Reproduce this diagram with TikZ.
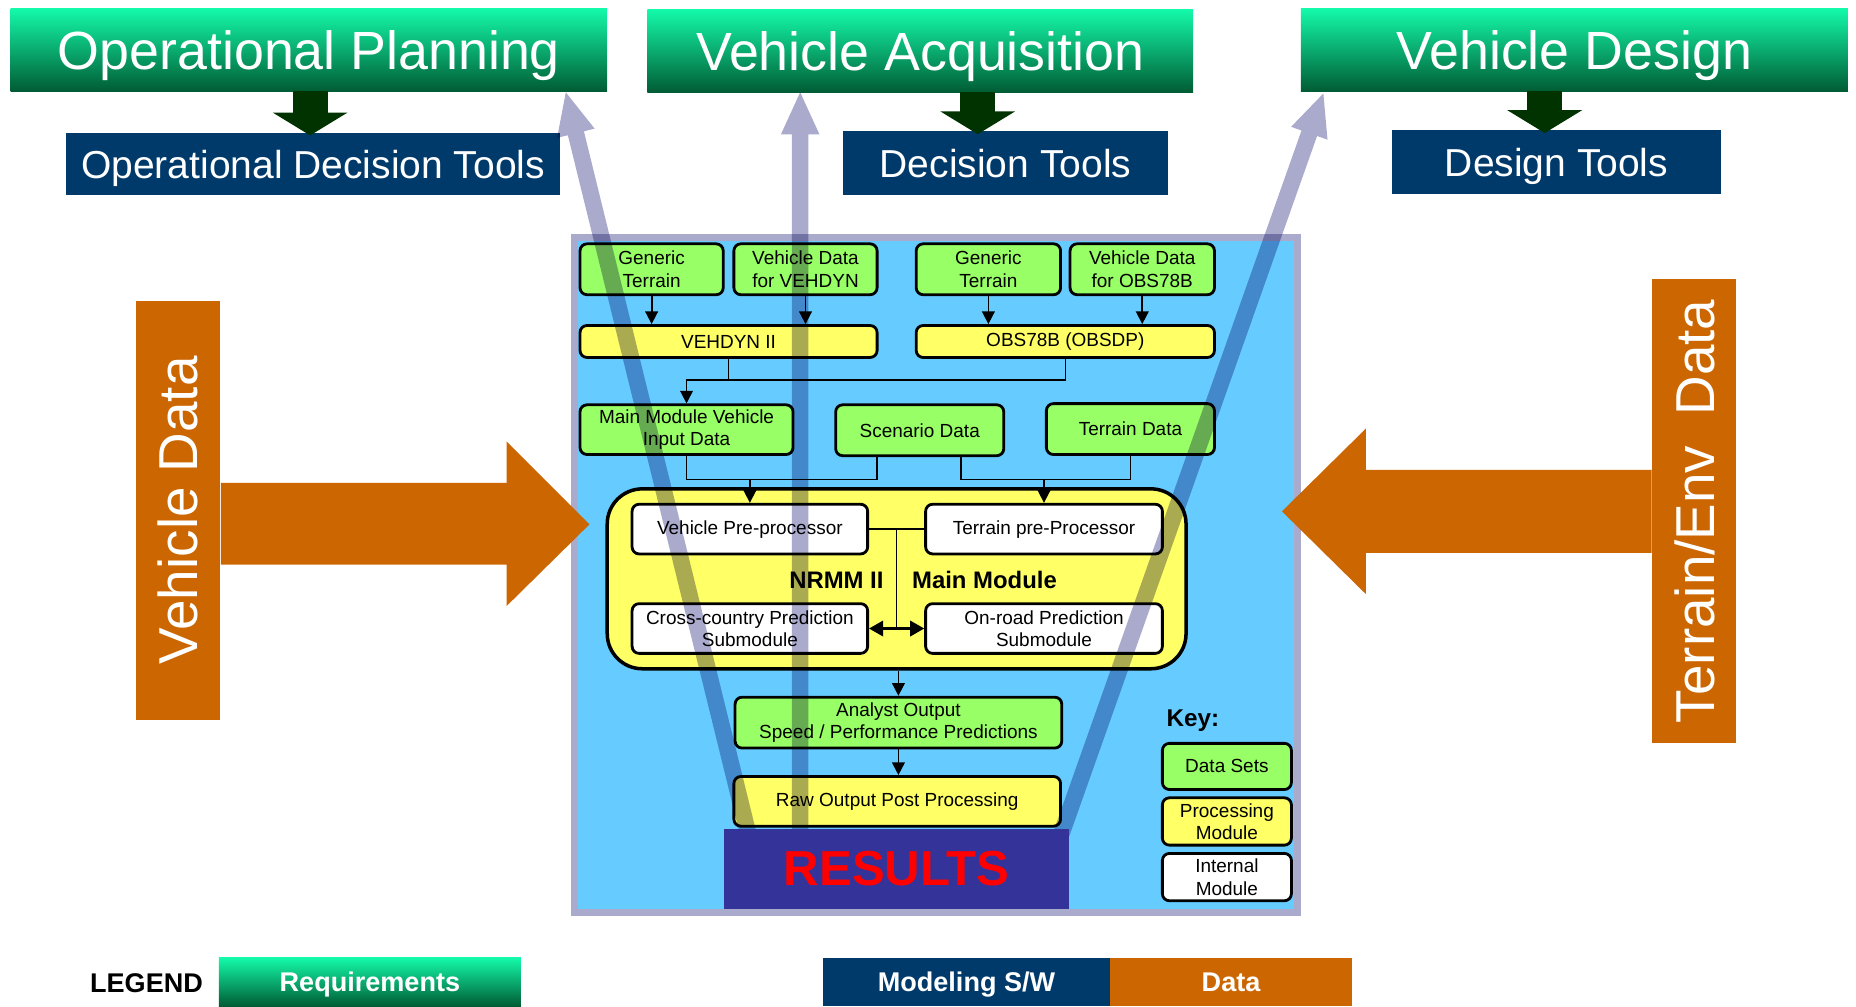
\documentclass[tikz,border=0pt]{standalone}
\usepackage{fontspec}
\setmainfont{Liberation Sans}
\usetikzlibrary{arrows.meta,calc}

\definecolor{reqtop}{RGB}{20,250,170}
\definecolor{reqbot}{RGB}{0,92,52}
\definecolor{swblue}{RGB}{0,58,107}
\definecolor{dataor}{RGB}{204,102,0}
\definecolor{dropgr}{RGB}{0,51,0}
\definecolor{panelbl}{RGB}{102,204,255}
\definecolor{lav}{RGB}{170,170,204}
\definecolor{dsgreen}{RGB}{153,255,102}
\definecolor{pmyellow}{RGB}{255,255,102}
\definecolor{resblue}{RGB}{51,51,153}

\newcommand{\pxu}{0.011837cm}
% wide see-through arrow from #1 to #2, one filled outline
\newcommand{\feedarrow}[2]{%
	\path ($(#2)!12pt!(#1)$) coordinate (fb);
	\fill[lav] ($(#1)!2.35pt!90:(#2)$) -- ($(fb)!2.35pt!90:(#2)$) -- ($(fb)!5.5pt!90:(#2)$)
		-- (#2) -- ($(fb)!5.5pt!-90:(#2)$) -- ($(fb)!2.35pt!-90:(#2)$) -- ($(#1)!2.35pt!-90:(#2)$) -- cycle;
}

\tikzset{
	sz/.style 2 args={minimum width=#1*\pxu, minimum height=#2*\pxu, inner sep=0pt},
	req/.style={rectangle, top color=reqtop, bottom color=reqbot, text=white, text depth=0pt},
	tool/.style={rectangle, fill=swblue, text=white, text depth=0pt},
	databar/.style={rectangle, fill=dataor, text=white},
	mbox/.style={rectangle, rounded corners=2pt, draw=black, line width=0.8pt, align=center, font=\fontsize{5.4}{6.4}\selectfont},
	dset/.style={mbox, fill=dsgreen},
	pmod/.style={mbox, fill=pmyellow},
	imod/.style={mbox, fill=white},
	arr/.style={-{Triangle[width=3.6pt,length=3.6pt]}, line width=0.5pt},
	arrtwo/.style={{Triangle[width=4.4pt,length=4pt]}-{Triangle[width=4.4pt,length=4pt]}, line width=0.6pt},
	drop/.style={dropgr, line width=10pt, -{Triangle[width=21pt,length=6.5pt]}},
	big/.style={font=\fontsize{15.3}{18}\selectfont},
	mid/.style={font=\fontsize{11.1}{13}\selectfont},
	leg/.style={font=\bfseries\fontsize{7.7}{9}\selectfont},
}

\begin{document}
\begin{tikzpicture}[x=\pxu, y=-\pxu]
%	\draw[help lines] (0,0) grid (1568,850);
	\useasboundingbox (0,0) rectangle (1568,850);

	% requirements and tools
	\node[req, big, sz={504}{70}] (opplan) at (261,42) {Operational Planning};
	\node[req, big, sz={461}{70}] (acq) at (777.5,43) {Vehicle Acquisition};
	\node[req, big, sz={462}{70}] (design) at (1330,42) {Vehicle Design};

	\node[tool, mid, sz={417}{53}] (opdt) at (264.5,138.5) {Operational Decision Tools};
	\node[tool, mid, sz={275}{54}] (dt) at (849.5,138) {Decision Tools};
	\node[tool, mid, sz={278}{54}] (dest) at (1315,137) {Design Tools};

	\path (262,77) coordinate (opdrop);
	\path (826,78) coordinate (acqdrop);
	\path (1305,77) coordinate (desdrop);
	\draw[drop] (opdrop) -- ([yshift=-3*\pxu]opdrop |- opdt.north);
	\draw[drop] (acqdrop) -- ([yshift=-3*\pxu]acqdrop |- dt.north);
	\draw[drop] (desdrop) -- ([yshift=-3*\pxu]desdrop |- dest.north);

	% NRMM panel
	\node[rectangle, fill=panelbl, draw=lav, line width=2pt, sz={611}{570}] (panel) at (790.5,486) {};

	\node[dset, sz={121}{43}] (gtv) at (550.5,227.5) {Generic\\Terrain};
	\node[dset, sz={121}{43}] (vdv) at (680.5,227.5) {Vehicle Data\\for VEHDYN};
	\node[dset, sz={122}{43}] (gto) at (835,227.5) {Generic\\Terrain};
	\node[dset, sz={122}{43}] (vdo) at (965,227.5) {Vehicle Data\\for OBS78B};

	\node[pmod, sz={251}{27}] (vehdyn) at (615.5,288.5) {VEHDYN II};
	\node[pmod, sz={252}{27}] (obs) at (900,288.5) {OBS78B (OBSDP)};

	\draw[arr] (gtv.south) -- (gtv.south |- vehdyn.north);
	\draw[arr] (vdv.south) -- (vdv.south |- vehdyn.north);
	\draw[arr] (gto.south) -- (gto.south |- obs.north);
	\draw[arr] (vdo.south) -- (vdo.south |- obs.north);

	\node[dset, sz={180}{42}] (mmv) at (580,363) {Main Module Vehicle\\Input Data};
	\node[dset, sz={142}{43}] (scen) at (777,363.5) {Scenario Data};
	\node[dset, sz={142}{43}] (terr) at (955,362.5) {Terrain Data};

	\path (vehdyn.south |- 0,321) coordinate (jv);
	\draw (vehdyn.south) -- (jv);
	\draw (obs.south) |- (jv);
	\draw[arr] (jv) -| (mmv.north);

	\node[pmod, rounded corners=10pt, line width=1pt, sz={489}{152}] (nrmm) at (757.5,489) {};
	\node[imod, sz={199}{42}] (vpp) at (633.5,447) {Vehicle Pre-processor};
	\node[imod, sz={200}{42}] (tpp) at (882,447) {Terrain pre-Processor};
	\node[imod, sz={199}{42}] (ccp) at (633.5,531) {Cross-country Prediction\\Submodule};
	\node[imod, sz={200}{42}] (orp) at (882,531) {On-road Prediction\\Submodule};
	\node[anchor=east, inner sep=0pt, font=\bfseries\fontsize{6.8}{8}\selectfont] (nrmmlbl) at (747,490) {NRMM II};
	\node[anchor=west, inner sep=0pt, font=\bfseries\fontsize{6.8}{8}\selectfont] (mainlbl) at (770,490) {Main Module};

	\path (vpp.north |- 0,405) coordinate (jl);
	\path (tpp.north |- 0,405) coordinate (jr);
	\draw (mmv.south) |- (jl) -| (741,0 |- scen.south);
	\draw (812,0 |- scen.south) |- (jr) -| (terr.south);
	\draw[arr] (jl) -- (vpp.north);
	\draw[arr] (jr) -- (tpp.north);

	\path ($(vpp.east)!0.5!(tpp.west)$) coordinate (jm);
	\draw (vpp.east) -- (tpp.west);
	\draw (jm) -- (jm |- ccp.east);
	\draw[arrtwo] (ccp.east) -- (orp.west);

	\node[dset, sz={276}{43}] (ana) at (759,610.5) {Analyst Output\\Speed / Performance Predictions};
	\node[pmod, sz={276}{42}] (raw) at (758,677) {Raw Output Post Processing};
	\draw[arr] (ana.north |- nrmm.south) -- (ana.north);
	\draw[arr] (ana.south) -- (ana.south |- raw.north);

	% key
	\node[anchor=west, inner sep=0pt, font=\bfseries\fontsize{6.9}{8}\selectfont] (keylbl) at (985,609) {Key:};
	\node[dset, sz={109}{39}] (kds) at (1036.5,647.5) {Data Sets};
	\node[pmod, sz={109}{40}] (kpm) at (1036.5,694) {Processing\\Module};
	\node[imod, sz={109}{40}] (kim) at (1036.5,741) {Internal\\Module};

	% data inputs
	\node[databar, rotate=90, sz={354}{71}, font=\fontsize{15.6}{19}\selectfont] (vdat) at (150.5,431) {Vehicle Data};
	\node[databar, rotate=90, sz={392}{71}, font=\fontsize{15.6}{19}\selectfont] (tdat) at (1431.5,432) {Terrain/Env\ \ Data};
	\fill[dataor] (vdat.south |- 0,408) -- (428,408) -- (428,373) -- (498,443)
		-- (428,512) -- (428,477) -- (vdat.south |- 0,477) -- cycle;
	\fill[dataor] (tdat.north |- 0,397) -- (1154,397) -- (1154,362) -- (1083,432)
		-- (1154,502) -- (1154,467) -- (tdat.north |- 0,467) -- cycle;

	% results feed back
	\path (634,712) coordinate (fop) (478,78) coordinate (top);
	\path (676,712) coordinate (facq) (676,78) coordinate (tacq);
	\path (894,712) coordinate (fdes) (1118,79) coordinate (tdes);
	\begin{scope}[blend mode=multiply]
		\feedarrow{fop}{top}
		\feedarrow{facq}{tacq}
		\feedarrow{fdes}{tdes}
	\end{scope}

	\node[rectangle, fill=resblue, text=red, sz={291}{68}, font=\bfseries\fontsize{14}{17}\selectfont] (res) at (757.5,734) {RESULTS};

	% legend
	\node[anchor=east, inner sep=0pt, leg] (legend) at (172,831) {LEGEND};
	\node[req, leg, sz={255}{41}] (lreq) at (312.5,829.5) {Requirements};
	\node[tool, leg, sz={243}{41}] (lsw) at (816.5,829.5) {Modeling S/W};
	\node[databar, leg, sz={204}{41}] (ldat) at (1040,829.5) {Data};
\end{tikzpicture}
\end{document}
